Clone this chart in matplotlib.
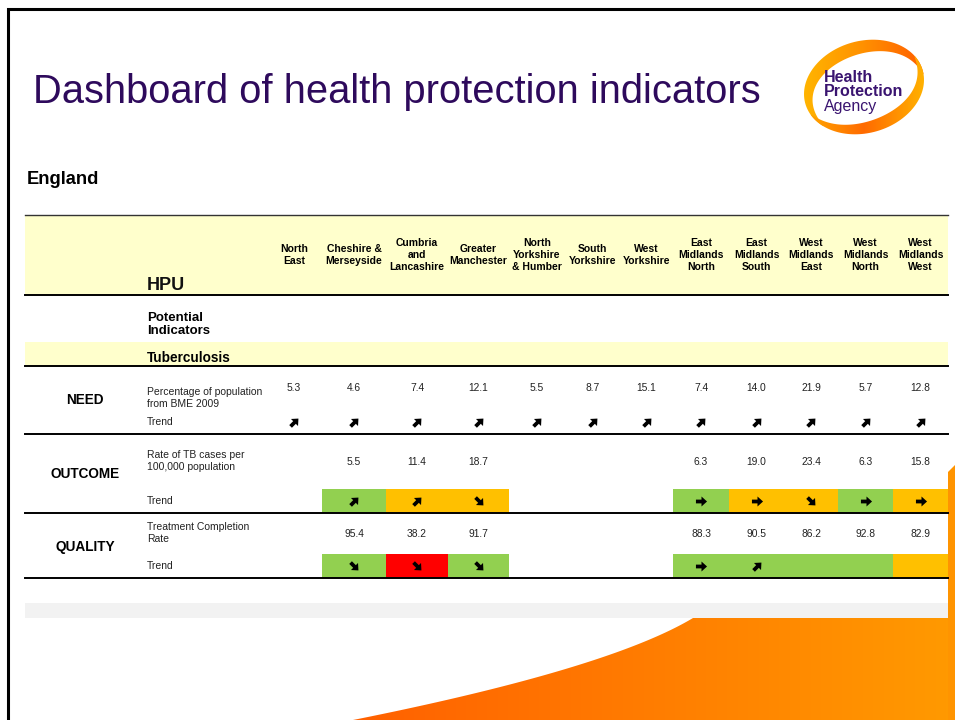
import numpy as np
import matplotlib
matplotlib.use("Agg")
import matplotlib.pyplot as plt
from matplotlib.patches import Rectangle, Polygon
from matplotlib.path import Path
from matplotlib.markers import MarkerStyle
from matplotlib.transforms import Affine2D
from matplotlib.colors import LinearSegmentedColormap

# ---------------- data ----------------
regions = ["North\nEast", "Cheshire &\nMerseyside", "Cumbria\nand\nLancashire",
           "Greater\nManchester", "North\nYorkshire\n& Humber", "South\nYorkshire",
           "West\nYorkshire", "East\nMidlands\nNorth", "East\nMidlands\nSouth",
           "West\nMidlands\nEast", "West\nMidlands\nNorth", "West\nMidlands\nWest"]

need_values = [5.3, 4.6, 7.4, 12.1, 5.5, 8.7, 15.1, 7.4, 14.0, 21.9, 5.7, 12.8]
need_trend = ["up"] * 12

outcome_values = [None, 5.5, 11.4, 18.7, None, None, None, 6.3, 19.0, 23.4, 6.3, 15.8]
outcome_trend = [None, "up", "up", "down", None, None, None, "right", "right", "down", "right", "right"]
outcome_rag = [None, "green", "amber", "amber", None, None, None, "green", "amber", "amber", "green", "amber"]

quality_values = [None, 95.4, 38.2, 91.7, None, None, None, 88.3, 90.5, 86.2, 92.8, 82.9]
quality_trend = [None, "down", "down", "down", None, None, None, "right", "up", None, None, None]
quality_rag = [None, "green", "red", "green", None, None, None, "green", "green", "green", "green", "amber"]

# ---------------- style ----------------
RAG = {"green": "#92d050", "amber": "#ffc000", "red": "#ff0000"}
ARROW_ANGLE = {"up": 45, "down": -45, "right": 0}
YELLOW = "#ffffcc"
PURPLE = "#2e0a5c"
LOGO_PURPLE = "#3a1470"
NARROW = ["Liberation Sans Narrow", "Liberation Sans", "DejaVu Sans"]
SANS = ["Liberation Sans", "DejaVu Sans"]
TXT = "#222222"

col_edges = [266, 322, 386, 448, 509, 565, 620, 673, 729, 784, 838, 893, 948]
centers = [(a + b) / 2 for a, b in zip(col_edges[:-1], col_edges[1:])]

# bold arrow marker (pointing right)
arrow_verts = [(-1.0, -0.34), (0.0, -0.34), (0.0, -0.9), (1.0, 0.0),
               (0.0, 0.9), (0.0, 0.34), (-1.0, 0.34), (-1.0, -0.34)]
arrow_codes = [Path.MOVETO] + [Path.LINETO] * 6 + [Path.CLOSEPOLY]
arrow_path = Path(arrow_verts, arrow_codes)

def arrow_marker(kind):
    return MarkerStyle(arrow_path, transform=Affine2D().rotate_deg(ARROW_ANGLE[kind]))

fig = plt.figure(figsize=(9.55, 7.2), dpi=100)
ax = fig.add_axes([0, 0, 1, 1])
ax.set_xlim(0, 955)
ax.set_ylim(720, 0)
ax.axis("off")

# slide frame
ax.plot([8, 8, 960], [725, 9, 9], color="black", lw=2.2, solid_joinstyle="miter", zorder=5)

# orange swoosh at bottom (gradient, clipped)
ys = np.linspace(618, 722, 80)
s = (720 - ys) / 102.0
xc = 353 + 340 * (s + 0.5 * s * (1 - s))
pts = [(960, 618)] + list(zip(xc, ys)) + [(960, 722)]
swoosh = Polygon(pts, closed=True, facecolor="none", edgecolor="none")
ax.add_patch(swoosh)
cmap = LinearSegmentedColormap.from_list("o", ["#ff5f00", "#ff9a00"])
grad = np.linspace(0, 1, 256)[None, :]
im = ax.imshow(grad, cmap=cmap, extent=(340, 958, 722, 618), aspect="auto", zorder=1,
               interpolation="bilinear")
im.set_clip_path(swoosh)
ax.set_xlim(0, 955); ax.set_ylim(720, 0)
# right strip
ax.add_patch(Polygon([(948, 472), (955, 465), (955, 720), (948, 720)], closed=True,
                     facecolor="#ff9400", edgecolor="none", zorder=1))
# grey band
ax.add_patch(Rectangle((25, 603), 923, 15, facecolor="#f2f2f2", edgecolor="none", zorder=2))

# title
ax.text(33, 92, "Dashboard of health protection indicators", fontsize=28.7, color=PURPLE,
        family=SANS, va="center", ha="left")

# logo
cx, cy, a, b, rot = 864, 87, 61, 46, np.deg2rad(-16)
def ell(theta, sx, sy):
    x = a * sx * np.cos(theta)
    y = -b * sy * np.sin(theta)
    return cx + x * np.cos(rot) - y * np.sin(rot), cy + x * np.sin(rot) + y * np.cos(rot)

def crescent(t0, t1, maxw, cols, gx):
    th = np.linspace(t0, t1, 80)
    f = np.linspace(0, 1, 80)
    w = maxw * np.sin(np.pi * np.clip(f, 0, 1)) ** 0.8 + 0.3
    ox, oy = ell(th, 1, 1)
    ix, iy = ell(th, 1 - w / a, 1 - w / b)
    poly = Polygon(list(zip(ox, oy)) + list(zip(ix[::-1], iy[::-1])), closed=True,
                   facecolor="none", edgecolor="none")
    ax.add_patch(poly)
    cm = LinearSegmentedColormap.from_list("c", cols)
    g = np.linspace(0, 1, 128)[None, :]
    img = ax.imshow(g, cmap=cm, extent=gx, aspect="auto", zorder=3, interpolation="bilinear")
    img.set_clip_path(poly)

crescent(np.deg2rad(215), np.deg2rad(-5), 13, ["#ffb800", "#ff9000", "#ff5a00"], (798, 930, 140, 36))
crescent(np.deg2rad(20), np.deg2rad(-165), 12, ["#ffb000", "#ff6a00", "#ffb800"], (798, 930, 140, 36))
ax.set_xlim(0, 955); ax.set_ylim(720, 0)
ax.text(824, 77, "Health", fontsize=11.5, fontweight="bold", color=LOGO_PURPLE, family=SANS, va="center")
ax.text(824, 92, "Protection", fontsize=11.5, fontweight="bold", color=LOGO_PURPLE, family=SANS, va="center")
ax.text(824, 107, "Agency", fontsize=11.5, color=LOGO_PURPLE, family=SANS, va="center")

# England
ax.text(27, 179, "England", fontsize=13.2, fontweight="bold", family=SANS, va="center")

# header band
ax.add_patch(Rectangle((25, 215), 923, 80, facecolor=YELLOW, edgecolor="none", zorder=2))
ax.plot([25, 948], [215, 215], color="#333333", lw=1.0, zorder=4)
ax.plot([25, 948], [295, 295], color="black", lw=1.4, zorder=4)
for c, lab in zip(centers, regions):
    ax.text(c, 254.5, lab, fontsize=7.5, fontweight="bold", family=NARROW, ha="center",
            va="center", linespacing=1.25, zorder=5)
ax.text(147, 286, "HPU", fontsize=13, fontweight="bold", family=SANS, va="center", color="#111111")

ax.text(147, 324.5, "Potential\nIndicators", fontsize=9.5, fontweight="bold", family=SANS,
        va="center", linespacing=1.15)
ax.add_patch(Rectangle((25, 342), 923, 24, facecolor=YELLOW, edgecolor="none", zorder=2))
ax.text(147, 357.5, "Tuberculosis", fontsize=9.8, fontweight="bold", family=SANS, va="center")
ax.plot([25, 948], [366, 366], color="black", lw=1.4, zorder=4)

def fmt(v):
    return f"{v:.1f}"

VAL_FS = 7.4
LAB_FS = 7.5

def draw_block(name, ymid, label, ylab, ytrend, yval, values, trends, rags, cell_top):
    ax.text(85, ymid, name, fontsize=9.8, fontweight="bold", family=SANS, ha="center", va="center")
    ax.text(147, ylab, label, fontsize=LAB_FS, family=SANS, va="center", linespacing=1.2, color=TXT)
    ax.text(147, ytrend, "Trend", fontsize=LAB_FS, family=SANS, va="center", color=TXT)
    for i, c in enumerate(centers):
        v, tr = values[i], trends[i]
        rg = rags[i] if rags is not None else None
        if v is not None:
            ax.text(c, yval, fmt(v), fontsize=VAL_FS, family=SANS, ha="center", va="center", color=TXT)
        if rg:
            ax.add_patch(Rectangle((col_edges[i], cell_top), col_edges[i + 1] - col_edges[i], 24,
                                   facecolor=RAG[rg], edgecolor="none", zorder=2))
        if tr:
            ax.plot([c], [ytrend], linestyle="none", marker=arrow_marker(tr), markersize=8,
                    color="black", markeredgewidth=0, zorder=6)

draw_block("NEED", 400, "Percentage of population\nfrom BME 2009", 398, 422, 388,
           need_values, need_trend, None, 0)
ax.plot([25, 948], [434, 434], color="black", lw=1.4, zorder=4)
draw_block("OUTCOME", 474, "Rate of TB cases per\n100,000 population", 461, 501, 462,
           outcome_values, outcome_trend, outcome_rag, 489)
ax.plot([25, 948], [513, 513], color="black", lw=1.4, zorder=4)
draw_block("QUALITY", 547, "Treatment Completion\nRate", 533, 566, 534,
           quality_values, quality_trend, quality_rag, 554)
ax.plot([25, 948], [578, 578], color="black", lw=1.4, zorder=4)

fig.savefig("out.png", dpi=100, facecolor="white")
